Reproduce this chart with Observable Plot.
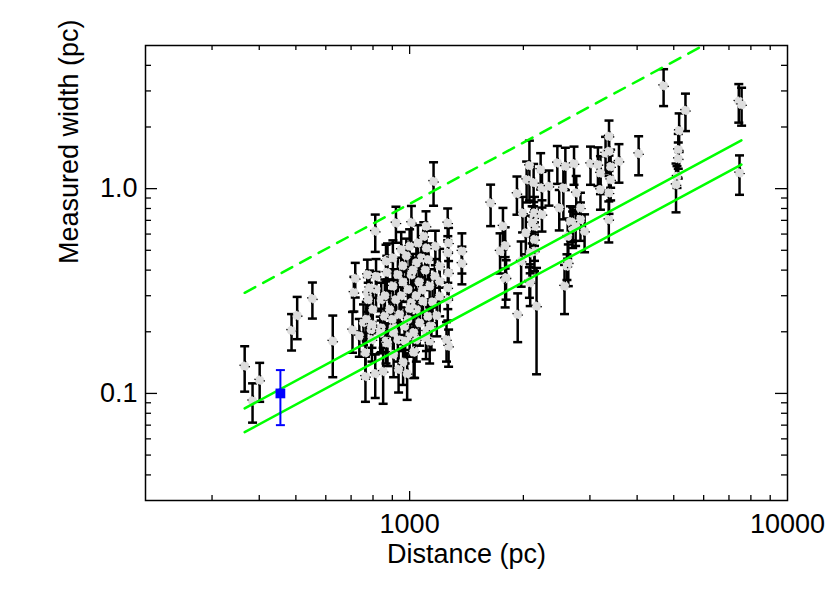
<!DOCTYPE html>
<html>
<head>
<meta charset="utf-8">
<script src="https://cdn.jsdelivr.net/npm/d3@7"></script>
<script src="https://cdn.jsdelivr.net/npm/@observablehq/plot@0.6"></script>
<style>
  html, body { margin: 0; padding: 0; background: #fff; }
  #chart svg { font-family: "Liberation Sans", Arial, Helvetica, sans-serif; }
</style>
</head>
<body>
<div id="chart"></div>
<script>
// ---- Data ----
// Distance (pc) of each filament
const distance = [
  366, 384, 401, 487, 504, 553, 626, 706, 718, 712,
  811, 920, 1011, 1105, 1090, 1157, 1261, 1268, 1268, 1375, 1375, 1268,
  811, 851, 985, 961, 1031, 764, 764, 755, 773, 773, 874,
  1170, 1262, 1262, 1262, 866, 903, 950, 1000, 1052, 1108, 1074, 1042, 1010, 990, 1010, 1042, 1085, 1118, 1063,
  1130, 1166, 1201, 1201, 1201, 931, 903, 920, 885, 940, 858, 841, 815, 815, 783, 777, 799, 768, 791, 841,
  903, 970, 1000, 1042, 931, 866, 736, 1108, 1142, 1252, 1130, 795, 874, 973, 1025, 1105, 1133, 907, 836, 795,
  1025, 907, 935,
  960, 980, 1020, 1060, 950, 1000, 1080, 1040, 960, 870, 1150, 1100, 860, 990, 1120, 900, 1180,
  1638, 1766, 1735, 1790, 1790, 1932, 1923, 2075, 2040, 2129, 2075, 2167, 1973, 2140, 2140, 2140, 2130, 2140,
  2222, 2240, 2337, 2240, 2460, 2489, 2583, 2552, 2608, 2570, 2723, 2760, 2700, 2700, 2620, 2832, 2832, 2904,
  3011, 3150, 3199, 3199, 3300, 3370, 3370, 3404, 3404, 3370, 3366, 3581, 4037,
  1990, 2030, 2085, 2085, 2110, 2664, 2750, 1800, 2630,
  4700, 5370, 5167, 5140, 5140, 5100, 5070, 7432, 7560, 7465
];
// Measured width (pc)
const width = [
  0.136, 0.092, 0.116, 0.203, 0.240, 0.290, 0.180, 0.204, 0.364, 0.311,
  0.619, 0.680, 0.683, 0.655, 0.585, 1.085, 0.680, 0.543, 0.388, 0.495, 0.431, 0.170,
  0.125, 0.128, 0.125, 0.142, 0.161, 0.158, 0.121, 0.222, 0.310, 0.380, 0.450,
  0.523, 0.486, 0.328, 0.287, 0.442, 0.459, 0.504, 0.523, 0.543, 0.513, 0.459, 0.434, 0.380, 0.322, 0.277, 0.257, 0.282, 0.238, 0.221,
  0.334, 0.373, 0.418, 0.298, 0.353, 0.380, 0.334, 0.287, 0.257, 0.243, 0.238, 0.287, 0.322, 0.373, 0.328, 0.287, 0.257, 0.230, 0.205, 0.209,
  0.209, 0.213, 0.191, 0.183, 0.183, 0.180, 0.191, 0.201, 0.213, 0.183, 0.180, 0.183, 0.176, 0.180, 0.198, 0.187, 0.213, 0.198, 0.197, 0.217,
  0.159, 0.155, 0.131,
  0.420, 0.470, 0.400, 0.350, 0.300, 0.260, 0.320, 0.300, 0.350, 0.390, 0.280, 0.400, 0.300, 0.230, 0.450, 0.230, 0.240,
  0.851, 0.655, 0.495, 0.363, 0.527, 0.243, 0.946, 1.295, 1.106, 1.070, 0.353, 0.267, 0.442, 0.495, 0.564, 0.655, 0.720, 0.761,
  1.240, 1.008, 1.026, 0.747, 1.335, 0.805, 1.284, 1.008, 0.418, 0.334, 1.324, 0.953, 0.680, 0.643, 0.585, 0.805, 0.706, 0.619,
  1.324, 1.310, 1.190, 0.989, 1.490, 1.800, 1.520, 1.280, 1.106, 0.953, 0.706, 1.359, 1.482,
  0.761, 0.608, 0.486, 0.347, 0.680, 0.690, 0.655, 0.367, 0.434,
  3.18, 2.41, 1.92, 1.55, 1.40, 1.148, 1.046, 2.67, 2.57, 1.193
];
// 1-sigma uncertainty on the width (pc)
const widthErr = [
  0.034, 0.020, 0.025, 0.041, 0.056, 0.058, 0.060, 0.046, 0.070, 0.060,
  0.128, 0.136, 0.140, 0.120, 0.100, 0.260, 0.120, 0.100, 0.100, 0.110, 0.090, 0.035,
  0.030, 0.039, 0.032, 0.032, 0.042, 0.040, 0.030, 0.050, 0.060, 0.070, 0.090,
  0.10, 0.10, 0.07, 0.06, 0.09, 0.10, 0.11, 0.11, 0.12, 0.11, 0.09, 0.09, 0.08, 0.07, 0.06, 0.06, 0.06, 0.05, 0.05,
  0.07, 0.08, 0.09, 0.06, 0.07, 0.08, 0.07, 0.06, 0.06, 0.05, 0.05, 0.06, 0.07, 0.08, 0.07, 0.06, 0.06, 0.05, 0.05, 0.05,
  0.05, 0.05, 0.04, 0.04, 0.04, 0.04, 0.04, 0.04, 0.05, 0.04, 0.04, 0.04, 0.04, 0.04, 0.04, 0.04, 0.05, 0.04, 0.04, 0.05,
  0.04, 0.035, 0.03,
  0.09, 0.10, 0.08, 0.07, 0.06, 0.05, 0.07, 0.06, 0.07, 0.08, 0.06, 0.08, 0.06, 0.05, 0.09, 0.05, 0.05,
  0.195, 0.150, 0.110, 0.100, 0.120, 0.065, 0.200, 0.420, 0.250, 0.250, 0.060, 0.143, 0.110, 0.100, 0.120, 0.130, 0.140, 0.150,
  0.250, 0.200, 0.200, 0.130, 0.280, 0.180, 0.300, 0.300, 0.060, 0.090, 0.280, 0.200, 0.130, 0.130, 0.130, 0.150, 0.150, 0.130,
  0.280, 0.280, 0.250, 0.200, 0.300, 0.350, 0.300, 0.270, 0.230, 0.200, 0.160, 0.290, 0.320,
  0.150, 0.130, 0.100, 0.080, 0.140, 0.130, 0.130, 0.080, 0.100,
  0.65, 0.50, 0.41, 0.30, 0.28, 0.14, 0.28, 0.57, 0.54, 0.26
];
// Highlighted (blue) filament
const blueDistance = [455];
const blueWidth = [0.100];
const blueErr = [0.030];

// Reference lines (end points)
const lineDistance = [366, 7550];
const lineLower = [0.0647, 1.31];   // solid, lower
const lineUpper = [0.0845, 1.72];   // solid, upper
const lineDashed = [0.31, 6.3];     // dashed

// Axis ticks and labels
const xMinorTicks = [300, 400, 500, 600, 700, 800, 900, 2000, 3000, 4000, 5000, 6000, 7000, 8000, 9000];
const xMajorTicks = [1000];
const xTickLabels = [1000, 10000];
const yMinorTicks = [0.04, 0.05, 0.06, 0.07, 0.08, 0.09, 0.2, 0.3, 0.4, 0.5, 0.6, 0.7, 0.8, 0.9, 2, 3, 4];
const yMajorTicks = [0.1, 1];
const yTickLabels = [0.1, 1];
const xTitle = "Distance (pc)";
const yTitle = "Measured width (pc)";

// ---- Build tables ----
const points = distance.map((d, i) => ({d, w: width[i], lo: width[i] - widthErr[i], hi: width[i] + widthErr[i]}));
const blue = blueDistance.map((d, i) => ({d, w: blueWidth[i], lo: blueWidth[i] - blueErr[i], hi: blueWidth[i] + blueErr[i]}));
const lineTable = (ys) => lineDistance.map((d, i) => ({d, w: ys[i]}));

const W = 830, H = 593;
const mL = 145, mR = 43, mT = 45, mB = 93;
const fw = W - mL - mR, fh = H - mT - mB;

const cap = (half) => ({draw(ctx) { ctx.moveTo(-half, 0); ctx.lineTo(half, 0); }});
const green = "#00ff00";
const fs = 27;

const chart = Plot.plot({
  width: W, height: H,
  marginLeft: mL, marginRight: mR, marginTop: mT, marginBottom: mB,
  style: {fontFamily: "Liberation Sans, Arial, Helvetica, sans-serif", background: "white"},
  x: {type: "log", domain: [200, 10000]},
  y: {type: "log", domain: [0.03, 5]},
  marks: [
    // black points with error bars
    Plot.ruleX(points, {x: "d", y1: "lo", y2: "hi", stroke: "black", strokeWidth: 2.5}),
    Plot.dot(points, {x: "d", y: "hi", symbol: cap(4.5), stroke: "black", strokeWidth: 2.5, fill: "none"}),
    Plot.dot(points, {x: "d", y: "lo", symbol: cap(4.5), stroke: "black", strokeWidth: 2.5, fill: "none"}),
    Plot.dot(points, {x: "d", y: "w", r: 4.7, fill: "#dddddd", stroke: "black", strokeWidth: 1.3, strokeDasharray: "1.3,6"}),
    // green reference lines
    Plot.line(lineTable(lineLower), {x: "d", y: "w", stroke: green, strokeWidth: 2.5, clip: true}),
    Plot.line(lineTable(lineUpper), {x: "d", y: "w", stroke: green, strokeWidth: 2.5, clip: true}),
    Plot.line(lineTable(lineDashed), {x: "d", y: "w", stroke: green, strokeWidth: 2.5, strokeDasharray: "12,9", clip: true}),
    // blue point
    Plot.ruleX(blue, {x: "d", y1: "lo", y2: "hi", stroke: "#0000ff", strokeWidth: 2}),
    Plot.dot(blue, {x: "d", y: "hi", symbol: cap(4.5), stroke: "#0000ff", strokeWidth: 2, fill: "none"}),
    Plot.dot(blue, {x: "d", y: "lo", symbol: cap(4.5), stroke: "#0000ff", strokeWidth: 2, fill: "none"}),
    Plot.dot(blue, {x: "d", y: "w", symbol: "square", r: 5.5, fill: "#0000ff", stroke: "none"}),
    // inward ticks: bottom & top
    Plot.ruleX(xMinorTicks, {x: d => d, insetTop: fh - 5, stroke: "black", strokeWidth: 1.3}),
    Plot.ruleX(xMinorTicks, {x: d => d, insetBottom: fh - 5, stroke: "black", strokeWidth: 1.3}),
    Plot.ruleX(xMajorTicks, {x: d => d, insetTop: fh - 9, stroke: "black", strokeWidth: 1.3}),
    Plot.ruleX(xMajorTicks, {x: d => d, insetBottom: fh - 9, stroke: "black", strokeWidth: 1.3}),
    // inward ticks: left & right
    Plot.ruleY(yMinorTicks, {y: d => d, insetRight: fw - 6, stroke: "black", strokeWidth: 1.3}),
    Plot.ruleY(yMinorTicks, {y: d => d, insetLeft: fw - 6, stroke: "black", strokeWidth: 1.3}),
    Plot.ruleY(yMajorTicks, {y: d => d, insetRight: fw - 12, stroke: "black", strokeWidth: 1.3}),
    Plot.ruleY(yMajorTicks, {y: d => d, insetLeft: fw - 12, stroke: "black", strokeWidth: 1.3}),
    Plot.frame({stroke: "black", strokeWidth: 1.5}),
    // tick labels
    Plot.axisX(xTickLabels, {anchor: "bottom", tickSize: 0, tickPadding: 13, fontSize: fs, tickFormat: d => String(d), label: null, fill: "black"}),
    Plot.axisY(yTickLabels, {anchor: "left", tickSize: 0, tickPadding: 8, fontSize: fs, tickFormat: d => d.toFixed(1), label: null, fill: "black"}),
    // axis titles
    Plot.text([xTitle], {text: d => d, frameAnchor: "bottom", dy: 62, fontSize: fs, fill: "black"}),
    Plot.text([yTitle], {text: d => d, frameAnchor: "left", rotate: -90, dx: -76, dy: -9, fontSize: fs, fill: "black"})
  ]
});
document.getElementById("chart").appendChild(chart);
</script>
</body>
</html>
